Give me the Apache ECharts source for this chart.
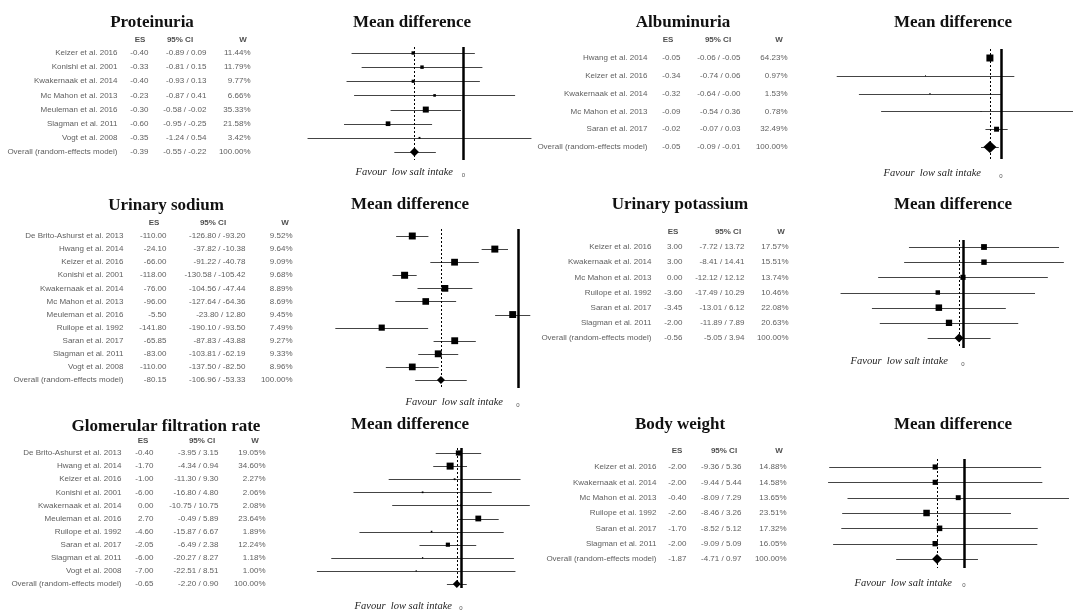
<!DOCTYPE html>
<html><head><meta charset="utf-8">
<script src="https://cdn.jsdelivr.net/npm/echarts@6/dist/echarts.min.js"></script>
<style>html,body{margin:0;padding:0;background:#fff}#c{width:1073px;height:612px}</style>
</head><body><div id="c"></div>
<script>
// ---------------- DATA ----------------
const proteinStudies = ['Keizer et al. 2016','Konishi et al. 2001','Kwakernaak et al. 2014','Mc Mahon et al. 2013','Meuleman et al. 2016','Slagman et al. 2011','Vogt et al. 2008','Overall (random-effects model)'];
const proteinES = [-0.40,-0.33,-0.40,-0.23,-0.30,-0.60,-0.35,-0.39];
const proteinLo = [-0.89,-0.81,-0.93,-0.87,-0.58,-0.95,-1.24,-0.55];
const proteinHi = [0.09,0.15,0.13,0.41,-0.02,-0.25,0.54,-0.22];
const proteinW  = [11.44,11.79,9.77,6.66,35.33,21.58,3.42,100.00];

const albumStudies = ['Hwang et al. 2014','Keizer et al. 2016','Kwakernaak et al. 2014','Mc Mahon et al. 2013','Saran et al. 2017','Overall (random-effects model)'];
const albumES = [-0.05,-0.34,-0.32,-0.09,-0.02,-0.05];
const albumLo = [-0.06,-0.74,-0.64,-0.54,-0.07,-0.09];
const albumHi = [-0.05,0.06,-0,0.36,0.03,-0.01];
const albumW  = [64.23,0.97,1.53,0.78,32.49,100.00];

const sodiumStudies = ['De Brito-Ashurst et al. 2013','Hwang et al. 2014','Keizer et al. 2016','Konishi et al. 2001','Kwakernaak et al. 2014','Mc Mahon et al. 2013','Meuleman et al. 2016','Ruilope et al. 1992','Saran et al. 2017','Slagman et al. 2011','Vogt et al. 2008','Overall (random-effects model)'];
const sodiumES = [-110.00,-24.10,-66.00,-118.00,-76.00,-96.00,-5.50,-141.80,-65.85,-83.00,-110.00,-80.15];
const sodiumLo = [-126.80,-37.82,-91.22,-130.58,-104.56,-127.64,-23.80,-190.10,-87.83,-103.81,-137.50,-106.96];
const sodiumHi = [-93.20,-10.38,-40.78,-105.42,-47.44,-64.36,12.80,-93.50,-43.88,-62.19,-82.50,-53.33];
const sodiumW  = [9.52,9.64,9.09,9.68,8.89,8.69,9.45,7.49,9.27,9.33,8.96,100.00];

const potassStudies = ['Keizer et al. 2016','Kwakernaak et al. 2014','Mc Mahon et al. 2013','Ruilope et al. 1992','Saran et al. 2017','Slagman et al. 2011','Overall (random-effects model)'];
const potassES = [3.00,3.00,0.00,-3.60,-3.45,-2.00,-0.56];
const potassLo = [-7.72,-8.41,-12.12,-17.49,-13.01,-11.89,-5.05];
const potassHi = [13.72,14.41,12.12,10.29,6.12,7.89,3.94];
const potassW  = [17.57,15.51,13.74,10.46,22.08,20.63,100.00];

const gfrStudies = ['De Brito-Ashurst et al. 2013','Hwang et al. 2014','Keizer et al. 2016','Konishi et al. 2001','Kwakernaak et al. 2014','Meuleman et al. 2016','Ruilope et al. 1992','Saran et al. 2017','Slagman et al. 2011','Vogt et al. 2008','Overall (random-effects model)'];
const gfrES = [-0.40,-1.70,-1.00,-6.00,0.00,2.70,-4.60,-2.05,-6.00,-7.00,-0.65];
const gfrLo = [-3.95,-4.34,-11.30,-16.80,-10.75,-0.49,-15.87,-6.49,-20.27,-22.51,-2.20];
const gfrHi = [3.15,0.94,9.30,4.80,10.75,5.89,6.67,2.38,8.27,8.51,0.90];
const gfrW  = [19.05,34.60,2.27,2.06,2.08,23.64,1.89,12.24,1.18,1.00,100.00];

const weightStudies = ['Keizer et al. 2016','Kwakernaak et al. 2014','Mc Mahon et al. 2013','Ruilope et al. 1992','Saran et al. 2017','Slagman et al. 2011','Overall (random-effects model)'];
const weightES = [-2.00,-2.00,-0.40,-2.60,-1.70,-2.00,-1.87];
const weightLo = [-9.36,-9.44,-8.09,-8.46,-8.52,-9.09,-4.71];
const weightHi = [5.36,5.44,7.29,3.26,5.12,5.09,0.97];
const weightW  = [14.88,14.58,13.65,23.51,17.32,16.05,100.00];

const panelTitles = ['Proteinuria','Albuminuria','Urinary sodium','Urinary potassium','Glomerular filtration rate','Body weight'];
const plotTitle = 'Mean difference';
const favourText = 'Favour  low salt intake';
const columnHeaders = ['ES','95% CI','W'];
const tickValues = [0];

// ---------------- LAYOUT (positions / styles) ----------------
const layouts = [
  {title:[152,23], plotTitle:[412,23], header:{y:40,es:140,ci:180,w:243}, cols:{name:118,es:149,ci:207,w:251},
   row0Y:53, rowNY:152, plot:{left:300,width:239,xMin:-1.3,xMax:0.6,top:47,bottom:160}, maxSq:6, diamond:[9,9], favour:[453,172], zeroMargin:12},
  {title:[683,23], plotTitle:[953,23], header:{y:40,es:668,ci:718,w:779}, cols:{name:648,es:681,ci:741,w:788},
   row0Y:58, rowNY:147, plot:{left:823.4,width:266.4,xMin:-0.8,xMax:0.4,top:49,bottom:159}, maxSq:7, diamond:[13,12], favour:[981,173], zeroMargin:14},
  {title:[166,206], plotTitle:[410,205], header:{y:223,es:154,ci:213,w:285}, cols:{name:124,es:167,ci:246,w:293},
   row0Y:236, rowNY:380, plot:{left:325.8,width:211.4,xMin:-200,xMax:20,top:229,bottom:388}, maxSq:7, diamond:[8,8], favour:[503,402], zeroMargin:14},
  {title:[680,205], plotTitle:[953,205], header:{y:232,es:673,ci:728,w:781}, cols:{name:652,es:683,ci:745,w:789},
   row0Y:247, rowNY:338, plot:{left:823,width:252,xMin:-20,xMax:16,top:240,bottom:348}, maxSq:6.5, diamond:[9,9], favour:[948,361], zeroMargin:13},
  {title:[166,427], plotTitle:[410,425], header:{y:441,es:143,ci:202,w:255}, cols:{name:122,es:154,ci:219,w:266},
   row0Y:453, rowNY:584, plot:{left:313.8,width:217.6,xMin:-23,xMax:11,top:448,bottom:588}, maxSq:7, diamond:[8,8], favour:[452,606], zeroMargin:17},
  {title:[680,425], plotTitle:[953,425], header:{y:451,es:677,ci:724,w:779}, cols:{name:657,es:687,ci:742,w:787},
   row0Y:467, rowNY:559, plot:{left:820,width:259.2,xMin:-10,xMax:8,top:459,bottom:568}, maxSq:6.5, diamond:[10,10], favour:[952,583], zeroMargin:14}
];

const panels = [
  {studies:proteinStudies, es:proteinES, lo:proteinLo, hi:proteinHi, w:proteinW},
  {studies:albumStudies, es:albumES, lo:albumLo, hi:albumHi, w:albumW},
  {studies:sodiumStudies, es:sodiumES, lo:sodiumLo, hi:sodiumHi, w:sodiumW},
  {studies:potassStudies, es:potassES, lo:potassLo, hi:potassHi, w:potassW},
  {studies:gfrStudies, es:gfrES, lo:gfrLo, hi:gfrHi, w:gfrW},
  {studies:weightStudies, es:weightES, lo:weightLo, hi:weightHi, w:weightW}
];

function fmt(v){ return Object.is(v,-0) ? '-0.00' : v.toFixed(2); }

const SANS = 'Liberation Sans, Arial, sans-serif';
const SERIF = 'Liberation Serif, Times New Roman, serif';
const TXT = '#333';

const chart = echarts.init(document.getElementById('c'), null, {renderer:'canvas', width:1073, height:612});
const grid = [], xAxis = [], yAxis = [], series = [], graphic = [];

panels.forEach((p, k) => {
  const L = layouts[k];
  const n = p.studies.length;
  const step = (L.rowNY - L.row0Y) / (n - 1);
  const yMin = -(L.row0Y - L.plot.top) / step;
  const yMax = (n - 1) + (L.plot.bottom - L.rowNY) / step;
  const h = L.plot.bottom - L.plot.top;
  const gP = grid.length, gT = gP + 1;
  grid.push({left:L.plot.left, top:L.plot.top, width:L.plot.width, height:h, containLabel:false, outerBoundsMode:'none'});
  grid.push({left:0, top:L.plot.top, width:1073, height:h, containLabel:false, outerBoundsMode:'none'});
  xAxis.push({type:'value', gridIndex:gP, min:L.plot.xMin, max:L.plot.xMax,
    axisLine:{show:false}, axisTick:{show:false}, splitLine:{show:false},
    axisLabel:{show:true, customValues:tickValues, margin:L.zeroMargin, fontSize:6, color:'#555', fontFamily:SANS}});
  xAxis.push({type:'value', gridIndex:gT, min:0, max:1073, show:false});
  yAxis.push({type:'value', gridIndex:gP, min:yMin, max:yMax, inverse:true, show:false});
  yAxis.push({type:'value', gridIndex:gT, min:yMin, max:yMax, inverse:true, show:false});

  const wmax = Math.max(...p.w.slice(0, n - 1));
  // CI lines
  series.push({type:'custom', xAxisIndex:gP, yAxisIndex:gP, silent:true, z:2,
    data: p.lo.map((lo, i) => [lo, p.hi[i], i]),
    encode:{x:[0,1], y:2},
    renderItem:(params, api) => {
      const a = api.coord([api.value(0), api.value(2)]);
      const b = api.coord([api.value(1), api.value(2)]);
      return {type:'line', shape:{x1:a[0], y1:Math.round(a[1])+0.5, x2:b[0], y2:Math.round(b[1])+0.5}, style:{stroke:'#444', lineWidth:1}};
    }
  });
  // study squares + reference lines
  series.push({type:'scatter', xAxisIndex:gP, yAxisIndex:gP, silent:true, z:4, clip:false, symbol:'rect',
    itemStyle:{color:'#000', opacity:1},
    data: p.es.slice(0, n - 1).map((v, i) => ({value:[v, i], symbolSize: Math.max(0.6, L.maxSq * Math.sqrt(p.w[i] / wmax))})),
    markLine:{silent:true, symbol:['none','none'], label:{show:false}, animation:false,
      data:[
        {xAxis:0, lineStyle:{color:'#000', width:2.5, type:'solid'}},
        {xAxis:p.es[n - 1], lineStyle:{color:'#000', width:1, type:[2,2]}}
      ]}
  });
  // overall diamond
  series.push({type:'scatter', xAxisIndex:gP, yAxisIndex:gP, silent:true, z:5, clip:false, symbol:'diamond',
    symbolSize:L.diamond, itemStyle:{color:'#000', opacity:1}, data:[[p.es[n - 1], n - 1]]});

  // table columns
  const colText = [
    ['name', i => p.studies[i]],
    ['es', i => fmt(p.es[i])],
    ['ci', i => fmt(p.lo[i]) + ' / ' + fmt(p.hi[i])],
    ['w', i => p.w[i].toFixed(2) + '%']
  ];
  colText.forEach(([c, f]) => {
    series.push({type:'scatter', xAxisIndex:gT, yAxisIndex:gT, silent:true, clip:false, symbolSize:1,
      itemStyle:{color:'rgba(0,0,0,0)'},
      data: p.studies.map((s, i) => [L.cols[c], i]),
      label:{show:true, position:'left', distance:0, formatter: q => f(q.dataIndex),
        fontSize:8, fontFamily:SANS, color:TXT}
    });
  });
  // header row
  const hIdx = (L.header.y - L.row0Y) / step;
  series.push({type:'scatter', xAxisIndex:gT, yAxisIndex:gT, silent:true, clip:false, symbolSize:1,
    itemStyle:{color:'rgba(0,0,0,0)'},
    data: [[L.header.es, hIdx], [L.header.ci, hIdx], [L.header.w, hIdx]],
    label:{show:true, position:'inside', formatter: q => columnHeaders[q.dataIndex],
      fontSize:8, fontWeight:'bold', fontFamily:SANS, color:'#222'}
  });

  // titles and favour text
  graphic.push({type:'text', x:L.title[0], y:L.title[1], silent:true,
    style:{text:panelTitles[k], font:'bold 17px ' + SERIF, fill:'#111', align:'center', verticalAlign:'middle'}});
  graphic.push({type:'text', x:L.plotTitle[0], y:L.plotTitle[1], silent:true,
    style:{text:plotTitle, font:'bold 17px ' + SERIF, fill:'#111', align:'center', verticalAlign:'middle'}});
  graphic.push({type:'text', x:L.favour[0], y:L.favour[1], silent:true,
    style:{text:favourText, font:'italic 10.5px ' + SERIF, fill:'#222', align:'right', verticalAlign:'middle'}});
});

chart.setOption({animation:false, backgroundColor:'#fff', grid, xAxis, yAxis, series, graphic});
</script>
</body></html>
